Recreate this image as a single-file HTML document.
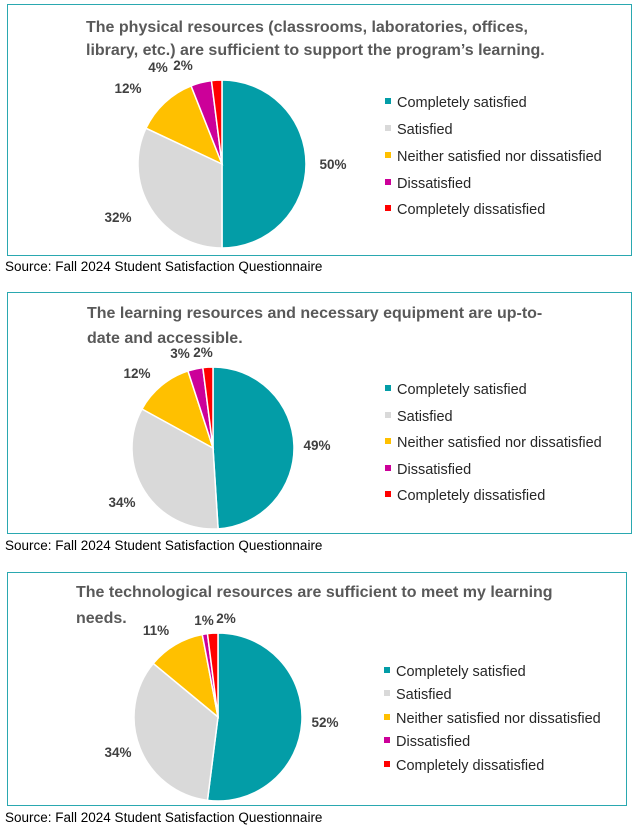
<!DOCTYPE html>
<html><head><meta charset="utf-8"><style>
html,body{margin:0;padding:0;background:#fff;}
svg{display:block;font-family:"Liberation Sans",Calibri,sans-serif;}
.t{font-size:16px;font-weight:bold;fill:#595959;}
.p{font-size:13.5px;font-weight:bold;fill:#404040;}
.l{font-size:14.5px;fill:#262626;}
.s{font-size:13.5px;fill:#000;}
</style></head><body>
<svg id="s" width="635" height="828" viewBox="0 0 635 828">
<rect x="7.5" y="4.5" width="624" height="251" fill="#fff" stroke="#2AA8B0" stroke-width="1"/>
<text class="t" x="86" y="32">The physical resources (classrooms, laboratories, offices,</text>
<text class="t" x="86" y="55">library, etc.) are sufficient to support the program’s learning.</text>
<text class="s" x="5" y="271">Source: Fall 2024 Student Satisfaction Questionnaire</text>

<rect x="7.5" y="292.5" width="624" height="241" fill="#fff" stroke="#2AA8B0" stroke-width="1"/>
<text class="t" x="87" y="318">The learning resources and necessary equipment are up-to-</text>
<text class="t" x="87" y="343">date and accessible.</text>
<text class="s" x="5" y="550">Source: Fall 2024 Student Satisfaction Questionnaire</text>

<rect x="7.5" y="572.5" width="619" height="233" fill="#fff" stroke="#2AA8B0" stroke-width="1"/>
<text class="t" x="76" y="597">The technological resources are sufficient to meet my learning</text>
<text class="t" x="76" y="623">needs.</text>
<text class="s" x="5" y="822">Source: Fall 2024 Student Satisfaction Questionnaire</text>
<g id="g"></g>
</svg>
<script>
var C=["#039DA7","#D9D9D9","#FFC000","#CC0099","#FF0000"];
var N=["Completely satisfied","Satisfied","Neither satisfied nor dissatisfied","Dissatisfied","Completely dissatisfied"];
var charts=[
 {cx:222,cy:164,r:84,v:[50,32,12,4,2],lab:[[333,169],[118,222],[128,93],[158,72],[183,70]],lx:385,ly:[102,129,156,183,209]},
 {cx:213,cy:448,r:81,v:[49,34,12,3,2],lab:[[317,450],[122,507],[137,378],[180,358],[203,357]],lx:385,ly:[389,416,442,469,495]},
 {cx:218,cy:717,r:84,v:[52,34,11,1,2],lab:[[325,727],[118,757],[156,635],[204,625],[226,623]],lx:384,ly:[671,694,718,741,765]}
];
var h="";
charts.forEach(function(c){
 var a=0;
 c.v.forEach(function(v,i){
  var a0=a,a1=a+v/100*2*Math.PI;a=a1;
  var x0=c.cx+c.r*Math.sin(a0),y0=c.cy-c.r*Math.cos(a0),x1=c.cx+c.r*Math.sin(a1),y1=c.cy-c.r*Math.cos(a1);
  h+='<path d="M'+c.cx+','+c.cy+'L'+x0+','+y0+'A'+c.r+','+c.r+' 0 '+((a1-a0)>Math.PI?1:0)+' 1 '+x1+','+y1+'Z" fill="'+C[i]+'" stroke="#fff" stroke-width="1.5"/>';
  h+='<text class="p" x="'+c.lab[i][0]+'" y="'+c.lab[i][1]+'" text-anchor="middle">'+v+'%</text>';
  h+='<rect x="'+c.lx+'" y="'+(c.ly[i]-4)+'" width="6" height="6" fill="'+C[i]+'"/>';
  h+='<text class="l" x="'+(c.lx+12)+'" y="'+(c.ly[i]+5)+'">'+N[i]+'</text>';
 });
});
document.getElementById("g").innerHTML=h;
</script>
</body></html>
